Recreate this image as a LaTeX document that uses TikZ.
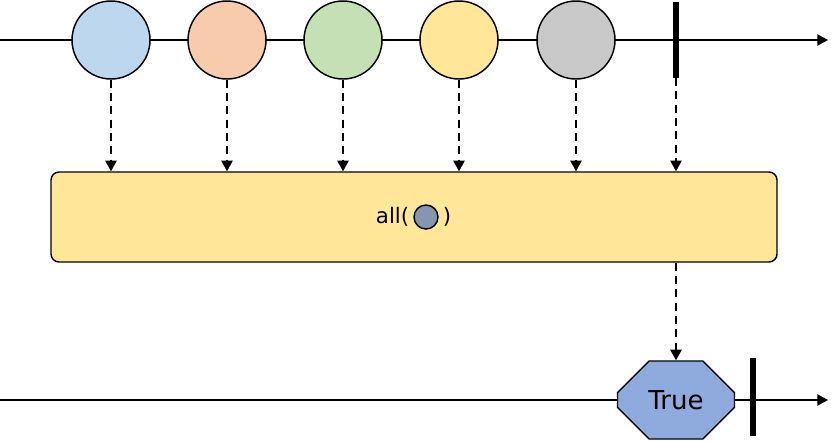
\documentclass[tikz,border=0pt]{standalone}
\usepackage{fontspec}
\setmainfont{DejaVu Sans}
\usetikzlibrary{arrows.meta,positioning,shapes.misc,calc}
\definecolor{ink}{HTML}{000000}
\definecolor{cblue}{HTML}{BDD7EE}
\definecolor{cpeach}{HTML}{F8CBAD}
\definecolor{cgreen}{HTML}{C5E0B4}
\definecolor{cyellow}{HTML}{FFE699}
\definecolor{cgray}{HTML}{C9C9C9}
\definecolor{cslate}{HTML}{8497B0}
\definecolor{cres}{HTML}{8FAADC}
\tikzset{
  >={Triangle[length=8pt,width=8.5pt]},
  every picture/.style={line width=1.1pt,draw=ink},
  ev/.style={circle,draw=ink,minimum size=58.5pt,inner sep=0pt},
  arg/.style={circle,draw=ink,fill=cslate,minimum size=18pt,inner sep=0pt},
  opbox/.style={draw=ink,fill=cyellow,rounded corners=6pt,minimum width=544.5pt,minimum height=67.5pt},
  res/.style={chamfered rectangle,chamfered rectangle xsep=16.5pt,chamfered rectangle ysep=16.5pt,
    draw=ink,fill=cres,minimum width=87.75pt,minimum height=58.5pt,inner sep=0pt,font=\fontsize{19.5}{21}\selectfont},
  fn/.style={font=\fontsize{16}{18}\selectfont,inner sep=2.5pt},
  tl/.style={->,draw=ink},
  dsh/.style={->,draw=ink,dash pattern=on 6pt off 4pt},
  endbar/.style={draw=ink,line width=4.2pt},
}
\begin{document}
\begin{tikzpicture}[x=0.75pt,y=-0.75pt]
  \useasboundingbox (0,0) rectangle (840,440);
  \coordinate (t0) at (0,40); \coordinate (t1) at (828,40);
  \draw[tl] (t0) -- (t1);
  \node[opbox] (all) at (414,217) {};
  \foreach \i/\x/\c in {1/111/cblue,2/227/cpeach,3/343/cgreen,4/459/cyellow,5/576/cgray}
    {\node[ev,fill=\c] (e\i) at (\x,40) {}; \draw[dsh] (e\i.south) -- (e\i.south |- all.north);}
  \coordinate (b0) at (676,2); \coordinate (b1) at (676,78);
  \draw[endbar] (b0) -- (b1);
  \draw[dsh] (b1) -- (b1 |- all.north);
  \node[arg] (x) at (426,217) {};
  \node[fn,anchor=east] (lp) at (x.west) {all(};
  \node[fn,anchor=west] (rp) at (x.east) {)};
  \coordinate (s0) at (0,400); \coordinate (s1) at (828,400);
  \draw[tl] (s0) -- (s1);
  \node[res] (true) at (676,400) {True};
  \draw[dsh] (all.south -| b1) -- (true.north);
  \coordinate (c0) at (753,358); \coordinate (c1) at (753,436);
  \draw[endbar] (c0) -- (c1);
\end{tikzpicture}
\end{document}
